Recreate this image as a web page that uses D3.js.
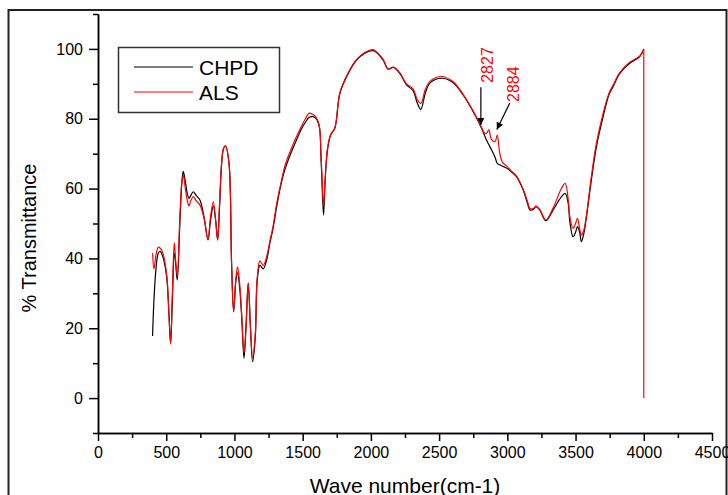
<!DOCTYPE html>
<html>
<head>
<meta charset="utf-8">
<script src="https://cdn.jsdelivr.net/npm/d3@7"></script>
<style>
    body { margin: 0; background: #fff; }
    svg { display: block; font-family: "Liberation Sans", Arial, sans-serif; }
</style>
</head>
<body>
<div id="graphContainer"></div>
<script>
"use strict";

// wave numbers shared by both spectra (cm-1)
const waveNumbers = [400, 410, 425, 442, 455, 475, 503, 520, 532, 545, 559, 570, 581, 600, 615, 625, 640, 655, 667, 680,
    698, 720, 747, 777, 806, 825, 845, 862, 877, 890, 906, 920, 935, 960, 979, 994, 1011, 1023, 1040, 1053,
    1070, 1084, 1101, 1118, 1133, 1153, 1167, 1187, 1211, 1236, 1260, 1280, 1310, 1340, 1370, 1407, 1450, 1490, 1520, 1548,
    1575, 1597, 1622, 1634, 1641, 1653, 1665, 1682, 1705, 1736, 1773, 1834, 1895, 1956, 2017, 2046, 2090, 2127, 2164, 2212,
    2261, 2310, 2340, 2366, 2400, 2432, 2518, 2603, 2676, 2750, 2811, 2830, 2847, 2864, 2884, 2910, 2926, 2945, 2965, 2994,
    3030, 3067, 3116, 3150, 3165, 3190, 3209, 3238, 3282, 3336, 3397, 3424, 3446, 3458, 3482, 3500, 3514, 3530, 3543, 3560,
    3580, 3616, 3653, 3702, 3744, 3775, 3824, 3897, 3971, 4000]

const chpdValues = [17.8, 28, 37, 41.5, 42, 40.5, 34.8, 24, 15.7, 28, 41.5, 38, 33.8, 50, 62, 64.9, 62, 58.5, 57.2, 58,
    59.1, 58, 56.7, 51.9, 45.3, 51, 55, 51, 45.3, 54, 67.2, 71.5, 72.2, 67.3, 38.6, 24.7, 33.8, 35.9, 30.9, 23.3,
    11.4, 19.5, 32.9, 19.5, 10.4, 17.6, 33.8, 38, 37, 39.5, 44.5, 48, 55, 61, 65.5, 69.5, 73.5, 77, 79, 80.4,
    80.6, 80.1, 77.7, 69.2, 62.5, 52.4, 62.5, 71.1, 75.4, 77.3, 87.3, 93, 96.8, 98.8, 99.5, 98.8, 96.8, 94.2, 94.7, 93,
    89.7, 88, 84.5, 82.7, 87.5, 90.2, 91.6, 90.3, 86.8, 82, 77.3, 75.5, 73.9, 72.6, 71.1, 69, 67.2, 66.8, 66.4, 65.9,
    64.8, 63.4, 59.6, 55.5, 53.9, 54, 54.8, 53.9, 50.8, 53.9, 57.7, 58.6, 55.8, 50.5, 46.2, 47.5, 49.1, 47.5, 44.8, 47,
    51.9, 62.5, 72, 80.6, 86.8, 89.2, 93, 95.9, 97.8, 100]

const alsValues = [41.5, 37, 41, 43.2, 43, 41.5, 35.5, 24, 15.5, 30, 44.5, 39, 35, 52, 62, 63.8, 60, 56.5, 55, 56.5,
    57.7, 56.5, 55.3, 51.5, 45.5, 52, 56.2, 51, 45.3, 55, 67.2, 71.5, 72.2, 67.3, 38.6, 25, 34.5, 37.6, 32, 24,
    13, 20, 33, 20, 11.5, 18.5, 34.5, 39.3, 38, 40.5, 45, 48.5, 55.8, 61.5, 66.5, 70.5, 74.5, 77.8, 80, 81.6,
    81.2, 80.5, 78, 70, 64, 54.8, 63, 71.5, 75.4, 77.5, 87.5, 93.2, 97, 99, 99.8, 99, 97, 94.2, 94.8, 93.2,
    90, 88.5, 85.5, 84.4, 88.5, 90.7, 92.1, 90.6, 87, 82.2, 77.5, 76, 75.8, 76.8, 74, 73.5, 75.3, 70, 67.5, 66.5,
    65, 63.6, 59.8, 56, 54.3, 54.3, 55, 54, 51, 54.5, 60.1, 61.5, 57, 52, 48.6, 50, 51.5, 48.5, 46.7, 48,
    52.5, 63.5, 73, 81.5, 87.2, 89.6, 93.2, 96.2, 98, 100]

// the ALS trace drops straight down to zero at its last wave number
const alsDrop = [4000, 0]

const seriesNames = ["CHPD", "ALS"]
const seriesColors = ["#000000", "#ff0000"]

const xTicks = [0, 500, 1000, 1500, 2000, 2500, 3000, 3500, 4000, 4500]
const yTicks = [0, 20, 40, 60, 80, 100]

// peak labels: text, arrow tail and arrow tip in data units
const peakLabels = ["2827", "2884"]
const peakLabelPos = [[2850, 90.3], [3040, 84.8]]
const arrowTails = [[2806, 89], [3018, 84.5]]
const arrowTips = [[2806, 78.2], [2923, 76.9]]

;(function () {
    const measurements = {
        width: 728,
        height: 495,
        left: 98,
        right: 712,
        top: 14,
        bottom: 433
    }

    const svgContainer = d3.select("#graphContainer").append("svg")
        .attr("width", measurements.width)
        .attr("height", measurements.height)

    // outer frame
    svgContainer.append("rect")
        .attr("x", 8.5)
        .attr("y", 10)
        .attr("width", 718)
        .attr("height", 500)
        .attr("fill", "none")
        .attr("stroke", "#222")
        .attr("stroke-width", 2)

    const scaleX = d3.scaleLinear()
        .domain([0, 4500])
        .range([measurements.left, measurements.right])

    const scaleY = d3.scaleLinear()
        .domain([-10, 110])
        .range([measurements.bottom, measurements.top])

    drawAxes(scaleX, scaleY)
    plotData(scaleX, scaleY)
    drawLegend()
    drawPeakLabels(scaleX, scaleY)

    function drawAxes(scaleX, scaleY) {
        const xAxis = d3.axisBottom(scaleX)
            .tickValues(xTicks)
            .tickFormat(d3.format("d"))
            .tickSize(8)
            .tickSizeOuter(0)
            .tickPadding(6)
        const xMinor = d3.axisBottom(scaleX)
            .tickValues(d3.range(250, 4500, 500))
            .tickSize(5)
            .tickSizeOuter(0)
            .tickFormat("")

        const yAxis = d3.axisLeft(scaleY)
            .tickValues(yTicks)
            .tickSize(9)
            .tickSizeOuter(0)
            .tickPadding(6)
        const yMinor = d3.axisLeft(scaleY)
            .tickValues(d3.range(-10, 111, 20))
            .tickSize(5)
            .tickSizeOuter(0)
            .tickFormat("")

        svgContainer.append("g")
            .attr("transform", `translate(0,${measurements.bottom})`)
            .call(xAxis)
        svgContainer.append("g")
            .attr("transform", `translate(0,${measurements.bottom})`)
            .call(xMinor)

        svgContainer.append("g")
            .attr("transform", `translate(${measurements.left},0)`)
            .call(yAxis)
        svgContainer.append("g")
            .attr("transform", `translate(${measurements.left},0)`)
            .call(yMinor)

        svgContainer.selectAll(".domain, .tick line")
            .attr("stroke", "#000")
            .attr("stroke-width", 1.5)
        svgContainer.selectAll(".tick text")
            .attr("fill", "#000")
            .attr("font-family", "Liberation Sans, Arial, sans-serif")
            .attr("font-size", 16)

        // axis titles
        svgContainer.append("text")
            .attr("x", (measurements.left + measurements.right) / 2)
            .attr("y", 493)
            .attr("text-anchor", "middle")
            .attr("font-size", 21)
            .text("Wave number(cm-1)")

        svgContainer.append("text")
            .attr("transform", "translate(36,238) rotate(-90)")
            .attr("text-anchor", "middle")
            .attr("font-size", 20)
            .text("% Transmittance")
    }

    function plotData(scaleX, scaleY) {
        const line = d3.line()
            .x(d => scaleX(d[0]))
            .y(d => scaleY(d[1]))
            .curve(d3.curveCatmullRom.alpha(0.5))

        const chpd = waveNumbers.map((w, i) => [w, chpdValues[i]])
        const als = waveNumbers.map((w, i) => [w, alsValues[i]])

        ;[chpd, als].forEach((points, i) => {
            svgContainer.append("path")
                .datum(points)
                .attr("d", line)
                .attr("fill", "none")
                .attr("stroke", seriesColors[i])
                .attr("stroke-width", 1.2)
                .attr("stroke-linejoin", "round")
        })

        // straight drop at the end of the ALS trace
        const last = als[als.length - 1]
        svgContainer.append("path")
            .datum([last, alsDrop])
            .attr("d", d3.line().x(d => scaleX(d[0])).y(d => scaleY(d[1])))
            .attr("fill", "none")
            .attr("stroke", seriesColors[1])
            .attr("stroke-width", 1.2)
    }

    function drawLegend() {
        const legend = svgContainer.append("g")
        legend.append("rect")
            .attr("x", 118.5)
            .attr("y", 47.5)
            .attr("width", 161)
            .attr("height", 65)
            .attr("fill", "#fff")
            .attr("stroke", "#333")
            .attr("stroke-width", 1.5)

        seriesNames.forEach((name, i) => {
            const y = 67 + i * 25
            legend.append("line")
                .attr("x1", 134)
                .attr("x2", 193)
                .attr("y1", y)
                .attr("y2", y)
                .attr("stroke", seriesColors[i])
                .attr("stroke-width", 1.2)
            legend.append("text")
                .attr("x", 199)
                .attr("y", y + 8)
                .attr("font-size", 21)
                .attr("fill", "#000")
                .text(name)
        })
    }

    function drawPeakLabels(scaleX, scaleY) {
        svgContainer.append("defs").append("marker")
            .attr("id", "arrowHead")
            .attr("viewBox", "0 0 10 10")
            .attr("refX", 10)
            .attr("refY", 5)
            .attr("markerWidth", 8)
            .attr("markerHeight", 7)
            .attr("markerUnits", "userSpaceOnUse")
            .attr("orient", "auto")
            .append("path")
            .attr("d", "M0,0 L10,5 L0,10 Z")
            .attr("fill", "#000")

        peakLabels.forEach((label, i) => {
            const lx = scaleX(peakLabelPos[i][0])
            const ly = scaleY(peakLabelPos[i][1])
            svgContainer.append("text")
                .attr("transform", `translate(${lx + 6},${ly}) rotate(-90)`)
                .attr("font-size", 16)
                .attr("fill", "#ff0000")
                .text(label)

            svgContainer.append("line")
                .attr("x1", scaleX(arrowTails[i][0]))
                .attr("y1", scaleY(arrowTails[i][1]))
                .attr("x2", scaleX(arrowTips[i][0]))
                .attr("y2", scaleY(arrowTips[i][1]))
                .attr("stroke", "#000")
                .attr("stroke-width", 1.2)
                .attr("marker-end", "url(#arrowHead)")
        })
    }
})()
</script>
</body>
</html>
